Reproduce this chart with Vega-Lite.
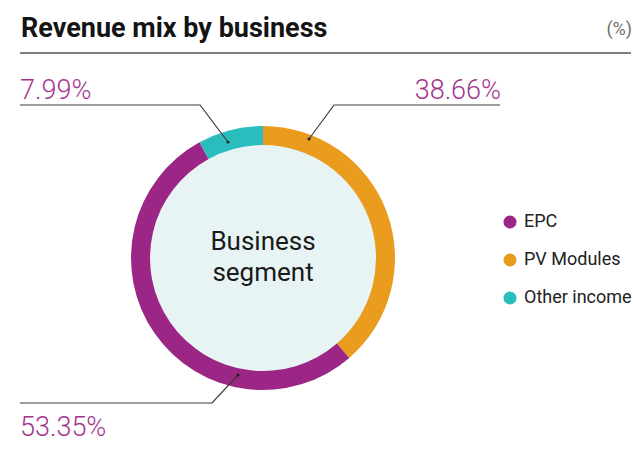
{
  "$schema": "https://vega.github.io/schema/vega-lite/v6.json",
  "width": 526,
  "height": 408,
  "autosize": "none",
  "padding": {"left": 0, "top": 54, "right": 108, "bottom": 0},
  "background": "white",
  "config": {"view": {"stroke": null}, "font": "Roboto"},
  "datasets": {
    "segments": [
      {"segment": "PV Modules", "share": 38.66, "order": 1},
      {"segment": "EPC", "share": 53.35, "order": 2},
      {"segment": "Other income", "share": 7.99, "order": 3}
    ],
    "leaders": [
      {"segment": "Other income", "step": 1, "px": 20, "py": 105},
      {"segment": "Other income", "step": 2, "px": 200, "py": 105},
      {"segment": "Other income", "step": 3, "px": 228, "py": 142},
      {"segment": "PV Modules", "step": 1, "px": 500, "py": 105},
      {"segment": "PV Modules", "step": 2, "px": 334, "py": 105},
      {"segment": "PV Modules", "step": 3, "px": 309, "py": 139},
      {"segment": "EPC", "step": 1, "px": 20, "py": 403},
      {"segment": "EPC", "step": 2, "px": 212, "py": 403},
      {"segment": "EPC", "step": 3, "px": 238, "py": 375}
    ],
    "callouts": [
      {"segment": "Other income", "text": "7.99%", "px": 20, "py": 99, "side": "left"},
      {"segment": "PV Modules", "text": "38.66%", "px": 501, "py": 99, "side": "right"},
      {"segment": "EPC", "text": "53.35%", "px": 20, "py": 436, "side": "left"}
    ],
    "header": [
      {"text": "Revenue mix by business", "px": 21, "py": 36.5, "kind": "title"},
      {"text": "(%)", "px": 632, "py": 35, "kind": "unit"}
    ],
    "frame": [{"px": 20, "px2": 631, "py": 53}]
  },
  "layer": [
    {
      "data": {"name": "frame"},
      "mark": {"type": "rule", "color": "#555555", "strokeWidth": 1.4},
      "encoding": {
        "x": {"field": "px", "type": "quantitative", "scale": {"domain": [0, 526], "range": [0, 526], "zero": false, "nice": false}, "axis": null},
        "x2": {"field": "px2"},
        "y": {"field": "py", "type": "quantitative", "scale": {"domain": [54, 462], "range": [0, 408], "zero": false, "nice": false}, "axis": null}
      }
    },
    {
      "data": {"name": "header"},
      "transform": [{"filter": "datum.kind == 'title'"}],
      "mark": {"type": "text", "font": "Roboto", "fontWeight": "bold", "fontSize": 27, "color": "#141414", "align": "left", "baseline": "alphabetic"},
      "encoding": {
        "x": {"field": "px", "type": "quantitative"},
        "y": {"field": "py", "type": "quantitative"},
        "text": {"field": "text"}
      }
    },
    {
      "data": {"name": "header"},
      "transform": [{"filter": "datum.kind == 'unit'"}],
      "mark": {"type": "text", "font": "Roboto", "fontSize": 18, "color": "#707070", "align": "right", "baseline": "alphabetic"},
      "encoding": {
        "x": {"field": "px", "type": "quantitative"},
        "y": {"field": "py", "type": "quantitative"},
        "text": {"field": "text"}
      }
    },
    {
      "data": {"values": [{"label": "Business\nsegment"}]},
      "mark": {"type": "arc", "theta": 0, "theta2": 6.2832, "outerRadius": 114, "innerRadius": 0, "fill": "#e8f4f4"},
      "encoding": {}
    },
    {
      "data": {"name": "segments"},
      "mark": {"type": "arc", "innerRadius": 113, "outerRadius": 132, "stroke": null},
      "encoding": {
        "theta": {"field": "share", "type": "quantitative", "stack": true},
        "order": {"field": "order", "type": "quantitative"},
        "color": {
          "field": "segment",
          "type": "nominal",
          "scale": {"domain": ["EPC", "PV Modules", "Other income"], "range": ["#9b2685", "#e99c1e", "#2bbdbd"]},
          "legend": {
            "title": null,
            "orient": "none",
            "legendX": 501,
            "legendY": 159,
            "symbolType": "circle",
            "symbolSize": 170,
            "symbolStrokeWidth": 0,
            "labelFont": "Roboto",
            "labelFontSize": 18,
            "labelColor": "#222222",
            "labelOffset": 5,
            "rowPadding": 20
          }
        }
      }
    },
    {
      "data": {"values": [{"label": "Business\nsegment"}]},
      "mark": {"type": "text", "font": "Roboto", "fontSize": 26, "color": "#1a1a1a", "align": "center", "baseline": "middle", "lineBreak": "\n", "lineHeight": 31, "dy": -16},
      "encoding": {"text": {"field": "label"}}
    },
    {
      "data": {"name": "leaders"},
      "mark": {"type": "line", "color": "#3a3a3a", "strokeWidth": 1.2},
      "encoding": {
        "x": {"field": "px", "type": "quantitative"},
        "y": {"field": "py", "type": "quantitative"},
        "detail": {"field": "segment"},
        "order": {"field": "step", "type": "quantitative"}
      }
    },
    {
      "data": {"name": "leaders"},
      "transform": [{"filter": "datum.step == 3"}],
      "mark": {"type": "point", "filled": true, "size": 10, "color": "#222222", "opacity": 1},
      "encoding": {
        "x": {"field": "px", "type": "quantitative"},
        "y": {"field": "py", "type": "quantitative"}
      }
    },
    {
      "data": {"name": "callouts"},
      "transform": [{"filter": "datum.side == 'left'"}],
      "mark": {"type": "text", "font": "Roboto", "fontSize": 27, "fontWeight": 300, "color": "#a3358f", "align": "left", "baseline": "alphabetic"},
      "encoding": {
        "x": {"field": "px", "type": "quantitative"},
        "y": {"field": "py", "type": "quantitative"},
        "text": {"field": "text"}
      }
    },
    {
      "data": {"name": "callouts"},
      "transform": [{"filter": "datum.side == 'right'"}],
      "mark": {"type": "text", "font": "Roboto", "fontSize": 27, "fontWeight": 300, "color": "#a3358f", "align": "right", "baseline": "alphabetic"},
      "encoding": {
        "x": {"field": "px", "type": "quantitative"},
        "y": {"field": "py", "type": "quantitative"},
        "text": {"field": "text"}
      }
    }
  ]
}
